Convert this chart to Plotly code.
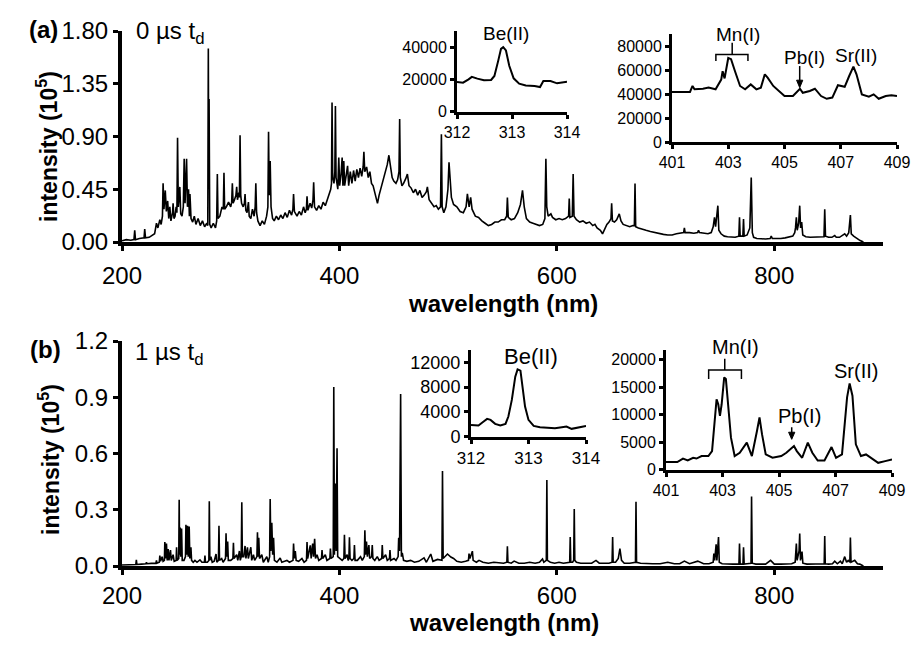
import plotly.graph_objects as go

W, H = 923, 646
FONT = "Liberation Sans, Arial, sans-serif"

# ---- data (main spectra in units of 1e5 counts) ----
# (wavelength nm, intensity) pairs, panel (a): 0 us delay
spec_a = [
    (200, 0.01), (204, 0.02), (208, 0.015), (211, 0.02), (211.7, 0.10), (212.4, 0.02),
    (216, 0.03), (220.3, 0.035), (220.9, 0.11), (221.6, 0.035), (225, 0.04), (228.6, 0.06),
    (230, 0.07), (231.7, 0.16), (233, 0.12), (234.8, 0.19), (236, 0.15), (237.2, 0.22),
    (237.8, 0.50), (238.6, 0.28), (239.8, 0.44), (240.8, 0.26), (242, 0.35), (243, 0.20),
    (244, 0.30), (245, 0.18), (246.5, 0.25), (247.0, 0.33), (247.8, 0.20), (248.8, 0.22),
    (249.8, 0.30), (250.5, 0.25), (251.1, 0.89), (251.8, 0.30), (253.2, 0.47), (254, 0.24),
    (255.2, 0.22), (256.4, 0.30), (257.2, 0.71), (258, 0.33), (259.4, 0.71), (260.2, 0.30),
    (261.2, 0.45), (262, 0.22), (262.5, 0.41), (263.5, 0.20), (265, 0.17), (266.5, 0.22),
    (268, 0.15), (270, 0.20), (272, 0.14), (274, 0.18), (276, 0.13), (278, 0.16),
    (278.9, 0.14), (279.4, 1.65), (279.8, 0.45), (280.1, 1.22), (280.7, 0.15), (282, 0.12),
    (284, 0.16), (286, 0.12), (287.1, 0.18), (287.7, 0.58), (288.3, 0.20), (290, 0.22),
    (292, 0.30), (293.2, 0.28), (293.8, 0.59), (294.4, 0.28), (296, 0.30), (298, 0.34),
    (300, 0.30), (300.9, 0.34), (301.5, 0.50), (302.2, 0.33), (303.5, 0.36), (304.8, 0.40),
    (305.5, 0.47), (306.2, 0.36), (307.5, 0.42), (308.0, 0.38), (308.6, 0.91), (309.2, 0.40),
    (310, 0.33), (311.5, 0.30), (312.6, 0.33), (313.2, 0.41), (313.9, 0.27), (315, 0.25),
    (316.3, 0.34), (317, 0.22), (318.5, 0.20), (320, 0.28), (321.5, 0.22), (322.5, 0.30),
    (323.1, 0.50), (323.8, 0.25), (325, 0.18), (327, 0.14), (329, 0.18), (331, 0.15),
    (333, 0.22), (334.2, 0.30), (334.8, 0.94), (335.4, 0.40), (336.3, 0.69), (337.1, 0.30),
    (338.5, 0.20), (340, 0.18), (342, 0.22), (344, 0.19), (346, 0.23), (348, 0.20),
    (350, 0.25), (352, 0.21), (354, 0.27), (356, 0.23), (357.2, 0.28), (357.8, 0.41),
    (358.6, 0.26), (361, 0.22), (363, 0.26), (365, 0.23), (367, 0.30), (368.5, 0.25),
    (369.6, 0.28), (370.2, 0.39), (371, 0.27), (373, 0.33), (374.5, 0.29), (375.7, 0.36),
    (376.3, 0.51), (377.1, 0.30), (379, 0.27), (381, 0.31), (383, 0.28), (385, 0.34),
    (387, 0.31), (389, 0.37), (390.5, 0.41), (392, 0.45), (392.7, 0.50), (393.2, 1.19),
    (393.8, 0.55), (395, 0.50), (395.8, 0.60), (396.3, 1.16), (396.9, 0.55), (398.5, 0.45),
    (399.4, 0.72), (400.2, 0.48), (401.5, 0.58), (402.5, 0.72), (403.2, 0.48), (404.0, 0.69),
    (404.8, 0.48), (406, 0.55), (407.5, 0.65), (408.5, 0.48), (410, 0.60), (411.5, 0.50),
    (413, 0.61), (414.5, 0.52), (416, 0.62), (417.5, 0.55), (419, 0.63), (420.5, 0.56),
    (421.8, 0.64), (422.5, 0.77), (423.3, 0.60), (425, 0.64), (426.5, 0.55), (428, 0.60),
    (429.5, 0.50), (431, 0.48), (432.5, 0.42), (434, 0.38), (435, 0.33), (436.5, 0.40),
    (438, 0.45), (440, 0.52), (442, 0.58), (444, 0.66), (445.5, 0.74), (447, 0.62),
    (448.5, 0.55), (450, 0.52), (452, 0.50), (453.5, 0.53), (454.8, 0.60), (455.4, 1.05),
    (456.0, 0.55), (457.5, 0.48), (459, 0.50), (461, 0.54), (462.5, 0.58), (464, 0.48),
    (466, 0.46), (468, 0.42), (470, 0.45), (472, 0.40), (474, 0.44), (476, 0.38),
    (478, 0.40), (480, 0.43), (480.9, 0.47), (482.5, 0.36), (485, 0.33), (487, 0.30),
    (489, 0.31), (491, 0.28), (493.0, 0.30), (493.8, 0.92), (494.5, 0.30), (496, 0.25),
    (498, 0.30), (499.8, 0.45), (500.8, 0.68), (501.8, 0.50), (503, 0.38), (505, 0.32),
    (508, 0.30), (511, 0.26), (514, 0.25), (516.5, 0.30), (517.7, 0.41), (519.3, 0.30),
    (520.7, 0.38), (522, 0.28), (525, 0.22), (528, 0.21), (531, 0.18), (534, 0.16),
    (537, 0.14), (540, 0.15), (543, 0.17), (546, 0.17), (549, 0.19), (552, 0.19),
    (553.8, 0.22), (554.5, 0.38), (555.3, 0.21), (558, 0.19), (561, 0.20), (564, 0.25),
    (566.5, 0.32), (568.4, 0.44), (570, 0.30), (572, 0.20), (575, 0.17), (578, 0.16),
    (581, 0.15), (584, 0.14), (587, 0.15), (589.0, 0.20), (589.9, 0.71), (590.7, 0.30),
    (592, 0.22), (594.5, 0.24), (596, 0.21), (599, 0.19), (602, 0.20), (605, 0.19),
    (608, 0.20), (610.8, 0.22), (611.4, 0.37), (612.0, 0.21), (614.2, 0.22), (615.0, 0.58),
    (615.8, 0.22), (618, 0.19), (621, 0.17), (624, 0.18), (627, 0.16), (630, 0.17),
    (633, 0.14), (635, 0.15), (637, 0.12), (640, 0.10), (642, 0.07), (644, 0.11),
    (646, 0.15), (648, 0.17), (649.8, 0.20), (650.4, 0.33), (651.1, 0.18), (653, 0.17),
    (655, 0.19), (657.4, 0.24), (659, 0.18), (661, 0.15), (664, 0.14), (667, 0.13),
    (670, 0.14), (671.3, 0.14), (671.9, 0.50), (672.5, 0.13), (675, 0.12), (678, 0.11),
    (682, 0.10), (686, 0.09), (690, 0.08), (694, 0.07), (698, 0.065), (702, 0.06),
    (706, 0.06), (710, 0.07), (714, 0.075), (716.6, 0.08), (717.3, 0.12), (718, 0.08),
    (722, 0.08), (726, 0.075), (729.5, 0.08), (730.3, 0.10), (731.2, 0.08), (735, 0.075),
    (739, 0.07), (742, 0.08), (743.8, 0.13), (745.0, 0.21), (746.0, 0.13), (748.1, 0.31),
    (749, 0.10), (751, 0.07), (754, 0.05), (757, 0.045), (761, 0.04), (764, 0.04),
    (767.4, 0.05), (768.0, 0.21), (768.6, 0.05), (771.1, 0.05), (771.7, 0.195), (772.3, 0.05),
    (775, 0.06), (777.5, 0.12), (778.8, 0.55), (779.8, 0.08), (781, 0.04), (784, 0.03),
    (788, 0.028), (792, 0.025), (796.2, 0.03), (797.2, 0.05), (798.2, 0.03), (802, 0.028),
    (806, 0.03), (810, 0.035), (814, 0.04), (817, 0.05), (818.8, 0.08), (819.5, 0.12),
    (820.3, 0.21), (821.1, 0.10), (822.4, 0.16), (823.4, 0.31), (824.2, 0.12), (825.2, 0.17),
    (826.2, 0.06), (829, 0.045), (833, 0.04), (837, 0.04), (841, 0.04), (845.7, 0.045),
    (846.4, 0.28), (847.1, 0.05), (850, 0.04), (853, 0.04), (855.6, 0.055), (857, 0.04),
    (860, 0.04), (862, 0.05), (864.8, 0.07), (866.5, 0.05), (868.5, 0.08), (870.0, 0.23),
    (870.8, 0.07), (873, 0.05), (876, 0.03), (879, 0.012), (882, 0.0),
]

# panel (b): 1 us delay
spec_b = [
    (200, 0.005), (205, 0.006), (210, 0.008), (212.7, 0.008), (213.2, 0.033), (213.7, 0.008),
    (218, 0.01), (222, 0.012), (222.5, 0.02), (223, 0.012), (227, 0.014), (231.2, 0.015),
    (231.7, 0.03), (232.2, 0.015), (234.3, 0.02), (234.8, 0.055), (235.5, 0.025), (236.9, 0.05),
    (237.8, 0.025), (239.0, 0.03), (239.4, 0.128), (240.1, 0.04), (240.9, 0.12), (241.6, 0.03),
    (242.5, 0.09), (243.2, 0.03), (244.6, 0.085), (245.3, 0.03), (247, 0.06), (248, 0.025),
    (249.8, 0.03), (250.2, 0.10), (250.7, 0.03), (252.2, 0.04), (252.6, 0.353), (253.0, 0.06),
    (253.5, 0.205), (254.0, 0.05), (254.8, 0.20), (255.4, 0.03), (257, 0.03), (258.4, 0.05),
    (258.8, 0.22), (259.4, 0.06), (260.3, 0.215), (260.9, 0.05), (261.8, 0.21), (262.4, 0.04),
    (263.4, 0.10), (264, 0.03), (265.5, 0.02), (267.1, 0.03), (269, 0.02), (271.7, 0.033),
    (273.5, 0.02), (275.8, 0.02), (276.3, 0.055), (276.8, 0.02), (278.5, 0.02), (279.9, 0.03),
    (280.3, 0.345), (280.8, 0.03), (281.8, 0.05), (283, 0.02), (284.8, 0.025), (286.5, 0.064),
    (287.2, 0.02), (288.7, 0.03), (289.2, 0.215), (289.7, 0.03), (291.7, 0.04), (293, 0.02),
    (295.2, 0.04), (295.7, 0.174), (296.3, 0.05), (297.2, 0.13), (297.8, 0.03), (300, 0.03),
    (302.0, 0.04), (302.5, 0.124), (303.0, 0.04), (305.5, 0.06), (306.5, 0.03), (308, 0.08),
    (308.8, 0.03), (309.7, 0.05), (310.2, 0.34), (310.7, 0.05), (312, 0.05), (313.2, 0.107),
    (314, 0.04), (315.4, 0.10), (316.2, 0.04), (318.5, 0.10), (319.3, 0.03), (320.9, 0.06),
    (322, 0.03), (324.1, 0.05), (324.6, 0.18), (325.2, 0.05), (325.8, 0.15), (326.5, 0.04),
    (328.6, 0.06), (330, 0.02), (333.2, 0.05), (334.5, 0.02), (335.8, 0.05), (336.3, 0.357),
    (336.9, 0.08), (337.8, 0.23), (338.6, 0.06), (339.4, 0.15), (340.2, 0.03), (342.5, 0.02),
    (345.5, 0.043), (347, 0.02), (349.5, 0.025), (351.7, 0.03), (354, 0.02), (357.3, 0.03),
    (357.8, 0.12), (358.5, 0.04), (359.4, 0.08), (360.2, 0.03), (362.5, 0.025), (365.5, 0.04),
    (367.5, 0.02), (369.7, 0.03), (370.2, 0.128), (370.8, 0.04), (373.2, 0.11), (374, 0.04),
    (375.4, 0.12), (376.2, 0.05), (377.2, 0.145), (378, 0.04), (379.4, 0.06), (381, 0.03),
    (383.5, 0.04), (384, 0.085), (384.6, 0.04), (387, 0.06), (388.5, 0.03), (391.2, 0.04),
    (391.7, 0.093), (392.3, 0.04), (394.3, 0.05), (394.8, 0.955), (395.4, 0.06), (396.3, 0.44),
    (397.0, 0.08), (397.8, 0.628), (398.4, 0.05), (400.9, 0.04), (402.5, 0.03), (404.1, 0.04),
    (404.6, 0.167), (405.2, 0.04), (407.1, 0.06), (408, 0.03), (408.7, 0.04), (409.2, 0.153),
    (409.8, 0.04), (411.5, 0.03), (413.3, 0.04), (413.8, 0.112), (414.4, 0.03), (416.5, 0.03),
    (419.4, 0.05), (421, 0.03), (422.9, 0.05), (423.4, 0.19), (424.0, 0.06), (424.9, 0.13),
    (425.7, 0.05), (427.1, 0.112), (427.8, 0.04), (429.6, 0.05), (430.2, 0.112), (430.8, 0.04),
    (432.5, 0.03), (434.8, 0.05), (436.5, 0.03), (438.9, 0.04), (439.4, 0.112), (440.0, 0.04),
    (442.5, 0.06), (444, 0.03), (446, 0.04), (446.5, 0.085), (447.1, 0.03), (450.2, 0.04),
    (452, 0.03), (454.0, 0.05), (454.5, 0.15), (455.3, 0.08), (456.3, 0.917), (457.0, 0.05),
    (457.8, 0.07), (459, 0.03), (462, 0.025), (465.5, 0.03), (469, 0.02), (473, 0.025),
    (477.8, 0.043), (480, 0.02), (484, 0.064), (486, 0.025), (490.2, 0.035), (494.3, 0.03),
    (494.8, 0.507), (495.4, 0.04), (497, 0.05), (499.4, 0.064), (502.5, 0.048), (505, 0.04),
    (508, 0.025), (512, 0.02), (516, 0.025), (518.7, 0.03), (519.2, 0.066), (520, 0.04),
    (522.3, 0.079), (523, 0.03), (526, 0.02), (528.4, 0.03), (532, 0.02), (537, 0.015),
    (542, 0.02), (547, 0.015), (551, 0.015), (554.0, 0.02), (554.5, 0.105), (555.0, 0.02),
    (558, 0.015), (560.7, 0.026), (565, 0.015), (570, 0.015), (575, 0.02), (580, 0.015),
    (584, 0.02), (586.8, 0.038), (588, 0.02), (590.3, 0.03), (590.8, 0.459), (591.3, 0.03),
    (594, 0.02), (598, 0.015), (602, 0.02), (606, 0.015), (610, 0.02), (611.8, 0.02),
    (612.3, 0.155), (612.8, 0.02), (614.5, 0.02), (615.5, 0.03), (616, 0.304), (616.5, 0.03),
    (618, 0.02), (622, 0.015), (627, 0.015), (632, 0.015), (636, 0.03), (639, 0.015),
    (644, 0.015), (648, 0.015), (650.8, 0.02), (651.3, 0.155), (651.8, 0.02), (654, 0.02),
    (656.5, 0.04), (658, 0.093), (659.5, 0.03), (662, 0.015), (667, 0.015), (672.3, 0.02),
    (672.8, 0.343), (673.3, 0.02), (677, 0.015), (682, 0.012), (688, 0.012), (695, 0.012),
    (702, 0.02), (708, 0.012), (713, 0.012), (717.3, 0.026), (722, 0.012), (729.6, 0.026),
    (735, 0.012), (740, 0.012), (743.8, 0.02), (744.4, 0.066), (745.2, 0.03), (746.5, 0.116),
    (747.2, 0.03), (748.7, 0.155), (749.4, 0.02), (752, 0.012), (757, 0.01), (762, 0.01),
    (767.5, 0.01), (768, 0.12), (768.6, 0.01), (771.2, 0.01), (771.7, 0.10), (772.3, 0.01),
    (775, 0.012), (778.6, 0.015), (779.1, 0.37), (779.7, 0.015), (783, 0.01), (788, 0.01),
    (792, 0.01), (796.6, 0.03), (800, 0.01), (806, 0.01), (812, 0.01), (816, 0.012),
    (819.2, 0.02), (819.8, 0.09), (820.3, 0.12), (821, 0.03), (822.0, 0.06), (822.8, 0.08),
    (823.4, 0.173), (824.1, 0.03), (825.5, 0.077), (826.3, 0.015), (830, 0.01), (835, 0.01),
    (840, 0.01), (845.9, 0.012), (846.4, 0.16), (846.9, 0.012), (850, 0.01), (853.5, 0.012),
    (855.6, 0.026), (858, 0.012), (860.8, 0.026), (862.5, 0.012), (864.8, 0.05), (866.5, 0.02),
    (868, 0.03), (869.5, 0.02), (870, 0.152), (870.6, 0.02), (874, 0.03), (876.5, 0.012),
    (878.6, 0.01), (882, 0.0),
]

# insets (raw counts)
be_a = [
    (312.0, 18300), (312.11, 17900), (312.21, 20000), (312.27, 21500), (312.37, 20400),
    (312.49, 19400), (312.62, 19600), (312.68, 22100), (312.75, 31600), (312.8, 38900),
    (312.84, 40000), (312.89, 37900), (312.95, 28400), (313.03, 20600), (313.13, 17300),
    (313.25, 16200), (313.41, 15800), (313.51, 15200), (313.57, 18900), (313.7, 18900),
    (313.82, 17500), (313.92, 18300), (314.0, 18500),
]
mn_a = [
    (401.0, 41700), (401.45, 41700), (401.64, 41700), (401.73, 46700), (401.8, 44000),
    (402.1, 44400), (402.3, 45300), (402.55, 43900), (402.75, 52000), (402.8, 59000),
    (402.87, 53000), (403.0, 70000), (403.1, 69000), (403.24, 59000), (403.42, 46700),
    (403.6, 43900), (403.8, 48000), (404.0, 43900), (404.16, 45300), (404.3, 56400),
    (404.4, 53600), (404.6, 46700), (404.8, 42500), (405.0, 38300), (405.3, 38300),
    (405.55, 44400), (405.65, 41000), (405.9, 42500), (406.08, 44400), (406.3, 38300),
    (406.5, 36000), (406.7, 37000), (406.9, 47300), (407.14, 46000), (407.3, 55000),
    (407.45, 62800), (407.56, 56400), (407.75, 39700), (408.0, 37800), (408.17, 39700),
    (408.35, 36000), (408.6, 38300), (408.8, 38900), (409.0, 38300),
]
be_b = [
    (312.0, 1880), (312.13, 1780), (312.22, 2420), (312.28, 2850), (312.34, 2690),
    (312.42, 2050), (312.51, 1780), (312.6, 2050), (312.65, 3230), (312.71, 5920),
    (312.77, 9690), (312.81, 10870), (312.86, 10660), (312.9, 8070), (312.94, 4840),
    (313.0, 2690), (313.09, 1720), (313.2, 1510), (313.32, 1450), (313.46, 1350),
    (313.58, 1510), (313.66, 1610), (313.75, 1240), (313.84, 1450), (313.92, 1610),
    (314.0, 1720),
]
mn_b = [
    (401.0, 1350), (401.4, 1350), (401.6, 2000), (401.77, 1650), (401.96, 2140),
    (402.08, 2000), (402.26, 2450), (402.5, 2450), (402.63, 3360), (402.73, 9500),
    (402.79, 12800), (402.85, 11900), (402.91, 9800), (402.97, 11900), (403.06, 16800),
    (403.12, 16500), (403.22, 11300), (403.3, 5800), (403.43, 2450), (403.61, 3060),
    (403.86, 4900), (404.04, 2450), (404.22, 7030), (404.31, 9500), (404.4, 6400),
    (404.53, 2750), (404.77, 2140), (405.08, 2450), (405.26, 3060), (405.45, 3970),
    (405.53, 4280), (405.63, 3360), (405.82, 2140), (406.02, 4900), (406.18, 3060),
    (406.37, 1650), (406.61, 1650), (406.86, 4100), (407.02, 2140), (407.23, 2750),
    (407.41, 13150), (407.5, 15700), (407.6, 13450), (407.72, 4590), (407.9, 2450),
    (408.08, 2750), (408.27, 2140), (408.51, 1220), (408.76, 1530), (409.0, 1830),
]

main_xticks = [200, 400, 600, 800]
a_yticks = [0, 0.45, 0.90, 1.35, 1.80]
b_yticks = [0, 0.3, 0.6, 0.9, 1.2]
be_xticks = [312, 313, 314]
mn_xticks = [401, 403, 405, 407, 409]
be_a_yticks = [0, 20000, 40000]
mn_a_yticks = [0, 20000, 40000, 60000, 80000]
be_b_yticks = [0, 4000, 8000, 12000]
mn_b_yticks = [0, 5000, 10000, 15000, 20000]


def px_x(a, b):
    return [a / W, b / W]


def px_y(bottom, top):
    return [1 - bottom / H, 1 - top / H]


def axis(domain, anchor, rng, ticks, size, lw, fmt=None, standoff=None):
    d = dict(domain=domain, anchor=anchor, range=rng, tickvals=ticks,
             showline=True, linewidth=lw, linecolor="black", mirror=False,
             ticks="outside", ticklen=5 if lw > 3 else 4, tickwidth=3, tickcolor="black",
             showgrid=False, zeroline=False, fixedrange=True, automargin=False,
             tickfont=dict(size=size, color="black", family=FONT))
    if fmt:
        d["tickformat"] = fmt
    if standoff is not None:
        d["ticklabelstandoff"] = standoff
    return d


fig = go.Figure()
traces = [
    (spec_a, "x", "y", 1.6), (be_a, "x2", "y2", 2), (mn_a, "x3", "y3", 2),
    (spec_b, "x4", "y4", 1.6), (be_b, "x5", "y5", 2), (mn_b, "x6", "y6", 2),
]
for data, xa, ya, lw in traces:
    fig.add_trace(go.Scatter(
        x=[p[0] for p in data], y=[p[1] for p in data], mode="lines",
        line=dict(color="black", width=lw), xaxis=xa, yaxis=ya,
        showlegend=False, hoverinfo="skip"))

fig.update_layout(
    template="none",
    width=W, height=H, autosize=False,
    margin=dict(l=0, r=0, t=0, b=0, pad=0),
    paper_bgcolor="white", plot_bgcolor="rgba(0,0,0,0)",
    font=dict(family=FONT, color="black"),
    xaxis=axis(px_x(122, 883), "y", [200, 900], main_xticks, 24, 4, standoff=4),
    yaxis=axis(px_y(242, 31), "x", [0, 1.8], a_yticks, 24, 4, ".2f"),
    xaxis2=axis(px_x(457, 567), "y2", [312, 314], be_xticks, 16, 3),
    yaxis2=axis(px_y(111.5, 31), "x2", [0, 50000], be_a_yticks, 16, 3, "d"),
    xaxis3=axis(px_x(672, 897), "y3", [401, 409], mn_xticks, 16, 3),
    yaxis3=axis(px_y(142, 34), "x3", [0, 90000], mn_a_yticks, 16, 3, "d"),
    xaxis4=axis(px_x(122, 883), "y4", [200, 900], main_xticks, 24, 4, standoff=0),
    yaxis4=axis(px_y(566, 341), "x4", [0, 1.2], b_yticks, 24, 4, ".1f"),
    xaxis5=axis(px_x(471, 586), "y5", [312, 314], be_xticks, 17, 3),
    yaxis5=axis(px_y(436.5, 350), "x5", [0, 14000], be_b_yticks, 18, 3, "d"),
    xaxis6=axis(px_x(666, 892), "y6", [401, 409], mn_xticks, 16, 3),
    yaxis6=axis(px_y(469.5, 350), "x6", [0, 21800], mn_b_yticks, 16, 3, "d"),
)


def paper_text(text, x, y, size, xanchor="center", angle=0):
    fig.add_annotation(text=text, x=x / W, y=1 - y / H, xref="paper", yref="paper",
                       xanchor=xanchor, yanchor="middle", showarrow=False, textangle=angle,
                       font=dict(size=size, color="black", family=FONT))


paper_text("<b>(a)</b>", 43, 30, 24)
paper_text("0 µs t<sub>d</sub>", 134, 32, 24, xanchor="left")
paper_text("<b>(b)</b>", 45, 349, 24)
paper_text("1 µs t<sub>d</sub>", 133, 353, 24, xanchor="left")
paper_text("<b>intensity (10<sup>5</sup>)</b>", 47, 147, 23, angle=-90)
paper_text("<b>intensity (10<sup>5</sup>)</b>", 49, 460, 23, angle=-90)
paper_text("<b>wavelength (nm)</b>", 503, 303, 24)
paper_text("<b>wavelength (nm)</b>", 504, 622, 24)
paper_text("Mn(I)", 735, 347, 20)


def data_text(text, x, y, xa, ya, size):
    fig.add_annotation(text=text, x=x, y=y, xref=xa, yref=ya, showarrow=False,
                       xanchor="center", yanchor="middle",
                       font=dict(size=size, color="black", family=FONT))


data_text("Be(II)", 312.89, 48400, "x2", "y2", 19)
data_text("Mn(I)", 403.36, 89700, "x3", "y3", 19)
data_text("Pb(I)", 405.7, 70300, "x3", "y3", 19)
data_text("Sr(II)", 407.55, 72200, "x3", "y3", 19)
data_text("Be(II)", 313.04, 12900, "x5", "y5", 22)
data_text("Pb(I)", 405.72, 9800, "x6", "y6", 20)
data_text("Sr(II)", 407.74, 18000, "x6", "y6", 20)

thin = dict(color="black", width=1.5)
# Mn(I) brackets
fig.add_shape(type="path", xref="x3", yref="y3", line=thin,
              path="M 402.56,67500 L 402.56,73000 L 403.7,73000 L 403.7,67500 "
                   "M 403.14,73000 L 403.14,82800")
fig.add_shape(type="path", xref="x6", yref="y6", line=thin,
              path="M 402.51,16500 L 402.51,18170 L 403.67,18170 L 403.67,16500 "
                   "M 403.08,18170 L 403.08,20200")

# Pb(I) arrows
fig.add_shape(type="line", xref="x3", yref="y3", line=thin,
              x0=405.54, x1=405.54, y0=63300, y1=49000)
fig.add_shape(type="path", xref="x3", yref="y3", line=dict(color="black", width=1),
              fillcolor="black", path="M 405.43,51500 L 405.65,51500 L 405.54,45300 Z")
fig.add_shape(type="line", xref="x6", yref="y6", line=thin,
              x0=405.45, x1=405.45, y0=7700, y1=6300)
fig.add_shape(type="path", xref="x6", yref="y6", line=dict(color="black", width=1),
              fillcolor="black", path="M 405.34,6800 L 405.56,6800 L 405.45,5500 Z")

# the page's default body margin would shift the figure by 8 px
fig.write_html("out.html", config={"displayModeBar": False},
               post_script="document.body.style.margin = '0px';")
